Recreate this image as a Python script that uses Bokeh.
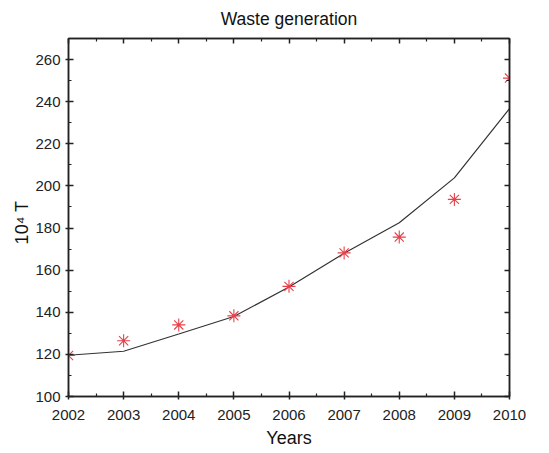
from bokeh.plotting import figure
from bokeh.models import FixedTicker, LinearAxis, Range1d, CustomLabelingPolicy
from bokeh.embed import file_html
from bokeh.resources import INLINE

years = [2002, 2003, 2004, 2005, 2006, 2007, 2008, 2009, 2010]
actual = [119.5, 126.5, 134.0, 138.3, 152.3, 168.2, 175.7, 193.6, 251.2]
fitted = [119.6, 121.5, 129.7, 138.0, 152.0, 168.0, 182.5, 203.8, 236.7]
x_ticks = years
y_ticks = [100, 120, 140, 160, 180, 200, 220, 240, 260]

FONT = "Liberation Sans"

p = figure(width=549, height=453, output_backend="svg", toolbar_location=None,
           x_range=Range1d(2002, 2010), y_range=Range1d(100, 270),
           title="Waste generation",
           min_border_left=68, min_border_right=40, min_border_top=37, min_border_bottom=57)
p.title.align = "center"
p.title.text_font = FONT
p.title.text_font_size = "17.5px"
p.title.text_font_style = "normal"
p.title.text_color = "#111111"
p.title.standoff = 12

p.xgrid.visible = False
p.ygrid.visible = False
p.outline_line_color = "#222222"
p.outline_line_width = 1.5

xt = FixedTicker(ticks=x_ticks, minor_ticks=[y + 0.5 for y in years[:-1]])
yt = FixedTicker(ticks=y_ticks, minor_ticks=list(range(110, 271, 20)))

for ax in p.xaxis:
    ax.ticker = xt
    ax.axis_label = "Years"
for ax in p.yaxis:
    ax.ticker = yt
    ax.axis_label = "10\u2074   T"

for ax in list(p.xaxis) + list(p.yaxis):
    ax.axis_label_text_font = FONT
    ax.axis_label_text_font_size = "18px"
    ax.axis_label_text_font_style = "normal"
    ax.axis_label_text_color = "#111111"
    ax.major_label_text_font = FONT
    ax.major_label_text_font_size = "15px"
    ax.major_label_text_color = "#222222"
    ax.axis_line_color = "#222222"
    ax.axis_line_width = 1.5
    ax.major_tick_line_color = "#222222"
    ax.minor_tick_line_color = "#222222"
    ax.major_tick_line_width = 1.5
    ax.minor_tick_line_width = 1.2
    ax.major_tick_in = 5
    ax.major_tick_out = 3
    ax.minor_tick_in = 3
    ax.minor_tick_out = 0

p.xaxis.axis_label_standoff = 5
p.yaxis.axis_label_standoff = 0
p.xaxis.major_label_standoff = 10
p.yaxis.major_label_standoff = 5

for loc, tick in (("above", xt), ("right", yt)):
    ax = LinearAxis(ticker=tick, major_label_text_font_size="2px",
                    major_label_policy=CustomLabelingPolicy(code="return []"),
                    axis_line_color="#222222", axis_line_width=1.5,
                    major_tick_line_color="#222222", minor_tick_line_color="#222222",
                    major_tick_line_width=1.5, minor_tick_line_width=1.2,
                    major_tick_in=5, major_tick_out=0, minor_tick_in=3, minor_tick_out=0,
                    major_label_standoff=0)
    p.add_layout(ax, loc)

p.line(years, fitted, line_color="#333333", line_width=1.2)
p.scatter(years, actual, marker="asterisk", size=13, line_color="#e8404a", line_width=1.1)

open("out.html", "w").write(file_html(p, INLINE))
